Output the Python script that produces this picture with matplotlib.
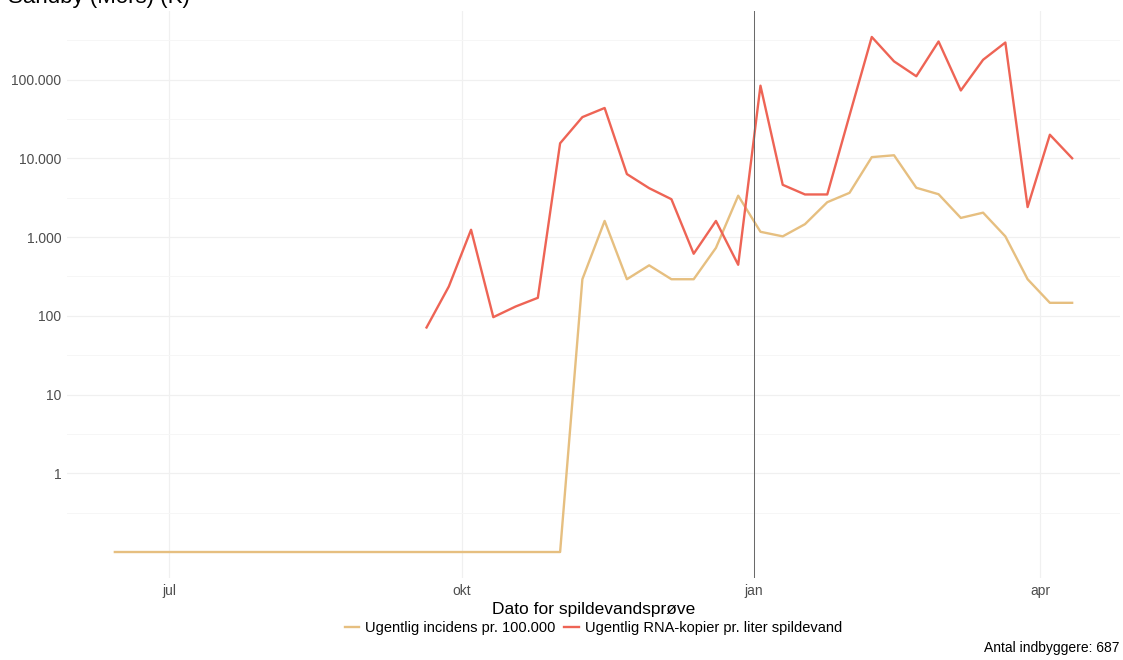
import matplotlib
matplotlib.use("Agg")
import matplotlib.pyplot as plt
import numpy as np
import pandas as pd

plt.rcParams['font.family'] = ['Liberation Sans', 'DejaVu Sans']

# weekly incidence per 100.000 (zero weeks before Nov 2021)
inc_dates = pd.date_range("2021-06-14", "2022-04-11", freq="W-MON")
incidens = [0] * 21 + [291, 1601, 291, 437, 291, 291, 728, 3348, 1165, 1019,
                       1456, 2766, 3639, 10335, 10917, 4221, 3494, 1747, 2038,
                       1019, 291, 146, 146]

# weekly RNA copies per litre wastewater
rna_dates = pd.date_range("2021-09-20", "2022-04-11", freq="W-MON")
rna = [71, 235, 1236, 96, 131, 169, 15500, 33300, 43500, 6300, 4170, 3020,
       613, 1600, 444, 83500, 4600, 3470, 3470, 35000, 347000, 170000, 110000,
       304000, 72600, 178000, 295000, 2400, 19900, 10000]

tick_dates = pd.to_datetime(["2021-07-01", "2021-10-01", "2022-01-01", "2022-04-01"])
tick_labels = ["jul", "okt", "jan", "apr"]
y_ticks = [1, 10, 100, 1000, 10000, 100000]
y_labels = ["1", "10", "100", "1.000", "10.000", "100.000"]

col_inc = "#E6BF80"
col_rna = "#EE6455"

fig = plt.figure(figsize=(11.23, 6.6), dpi=100)
ax = fig.add_axes([67 / 1123, 82 / 660, 1053 / 1123, 567 / 660])

inc_plot = np.where(np.array(incidens) == 0, 0.1, incidens)
ax.plot(inc_dates, inc_plot, color=col_inc, lw=1.7, label="Ugentlig incidens pr. 100.000")
ax.plot(rna_dates, rna, color=col_rna, lw=1.7, label="Ugentlig RNA-kopier pr. liter spildevand")
ax.axvline(pd.Timestamp("2022-01-01"), color="#666666", lw=0.7, zorder=3)

ax.set_yscale("log")
ax.set_ylim(10 ** -1.33, 10 ** 5.87)
span = inc_dates[-1] - inc_dates[0]
ax.set_xlim(inc_dates[0] - span * 0.05, inc_dates[-1] + span * 0.05)

ax.set_yticks(y_ticks)
ax.set_yticklabels(y_labels)
ax.yaxis.set_minor_locator(matplotlib.ticker.FixedLocator([10 ** (k + 0.5) for k in range(-2, 6)]))
ax.yaxis.set_minor_formatter(matplotlib.ticker.NullFormatter())
ax.set_xticks(tick_dates)
ax.set_xticklabels(tick_labels)

ax.grid(True, which="major", color="#F0F0F0", lw=0.9)
ax.grid(True, which="minor", axis="y", color="#F6F6F6", lw=0.7)
ax.set_axisbelow(True)
for s in ax.spines.values():
    s.set_visible(False)
ax.tick_params(which="both", length=0, labelsize=10, labelcolor="#4D4D4D", pad=4)

ax.set_xlabel("Dato for spildevandsprøve", fontsize=12.5, labelpad=3)

fig.text(8 / 1123, 1 - 3 / 660, "Sandby (Mors) (K)", fontsize=16, ha="left", va="baseline")
fig.text(1120 / 1123, 1 - 652 / 660, "Antal indbyggere: 687", fontsize=10, ha="right", va="baseline")

fig.legend(loc="center", bbox_to_anchor=(593.5 / 1123, 1 - 628 / 660), ncol=2,
           frameon=False, fontsize=10.5, handlelength=1.0, handletextpad=0.4,
           columnspacing=0.6)

fig.savefig("out.png", dpi=100)
